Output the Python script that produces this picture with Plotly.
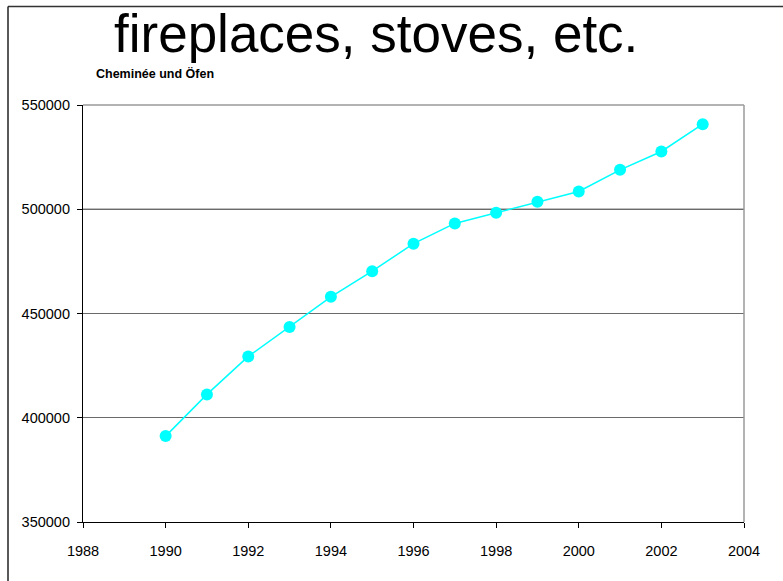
import plotly.graph_objects as go

# Annual stock of fireplaces and stoves
years = [1990, 1991, 1992, 1993, 1994, 1995, 1996, 1997, 1998, 1999, 2000, 2001, 2002, 2003]
units = [391200, 411200, 429400, 443500, 458000, 470300, 483500, 493200, 498300, 503600, 508500, 518900, 527700, 540800]

x_ticks = [1988, 1990, 1992, 1994, 1996, 1998, 2000, 2002, 2004]
y_ticks = [350000, 400000, 450000, 500000, 550000]

title_text = "fireplaces, stoves, etc."
subtitle_text = "Cheminée und Öfen"

W, H = 783, 581
L, R, T, B = 83, 39, 104.5, 59.3
PW, PH = W - L - R, H - T - B

sans = "Liberation Sans, Arial, sans-serif"


def px_x(px):
    return (px - L) / PW


def px_y(py):
    return 1 + (T - py) / PH


fig = go.Figure()
fig.add_trace(go.Scatter(
    x=years, y=units, mode="lines+markers",
    line=dict(color="#00FFFF", width=1.5),
    marker=dict(color="#00FFFF", size=12, symbol="circle"),
    showlegend=False,
))

fig.update_layout(
    width=W, height=H,
    margin=dict(l=L, r=R, t=T, b=B, pad=0),
    paper_bgcolor="white", plot_bgcolor="white",
    font=dict(family=sans, size=14.5, color="black"),
    xaxis=dict(
        range=[x_ticks[0], x_ticks[-1]], tickmode="array", tickvals=x_ticks,
        ticktext=[str(v) for v in x_ticks],
        showgrid=False, zeroline=False,
        showline=True, linecolor="black", linewidth=1.2,
        ticks="outside", ticklen=5, tickcolor="black", tickwidth=1,
        ticklabelstandoff=10,
        tickfont=dict(family=sans, size=14.5),
    ),
    yaxis=dict(
        range=[y_ticks[0], y_ticks[-1]], tickmode="array", tickvals=y_ticks,
        ticktext=[str(v) for v in y_ticks],
        showgrid=True, gridcolor="#6a6a6a", gridwidth=1.2, zeroline=False,
        showline=True, linecolor="black", linewidth=1.2,
        ticks="outside", ticklen=5, tickcolor="black", tickwidth=1,
        ticklabelstandoff=4,
        tickfont=dict(family=sans, size=14.5),
    ),
    annotations=[
        dict(text=title_text, xref="paper", yref="paper",
             x=px_x(375.5), y=px_y(33),
             xanchor="center", yanchor="middle", showarrow=False,
             font=dict(family=sans, size=53, color="black")),
        dict(text="<b>" + subtitle_text + "</b>", xref="paper", yref="paper",
             x=px_x(94), y=px_y(73),
             xanchor="left", yanchor="middle", showarrow=False,
             font=dict(family=sans, size=12.5, color="black")),
    ],
    shapes=[
        # top and right edges of the plot frame
        dict(type="line", xref="x domain", yref="y domain", x0=0, x1=1, y0=1, y1=1,
             line=dict(color="#9a9a9a", width=1.5), layer="above"),
        dict(type="line", xref="x domain", yref="y domain", x0=1, x1=1, y0=0, y1=1,
             line=dict(color="#9a9a9a", width=1.5), layer="above"),
        # emphasised gridline at 500000
        dict(type="line", xref="x domain", yref="y", x0=0, x1=1, y0=500000, y1=500000,
             line=dict(color="black", width=1.2), layer="below"),
        # outer chart border (left and top edges)
        dict(type="line", xref="paper", yref="paper",
             x0=px_x(8), x1=px_x(W), y0=px_y(6), y1=px_y(6),
             line=dict(color="#333333", width=1.5)),
        dict(type="line", xref="paper", yref="paper",
             x0=px_x(8), x1=px_x(8), y0=px_y(6), y1=px_y(H),
             line=dict(color="#222222", width=1.5)),
    ],
)

fig.write_html("out.html")
